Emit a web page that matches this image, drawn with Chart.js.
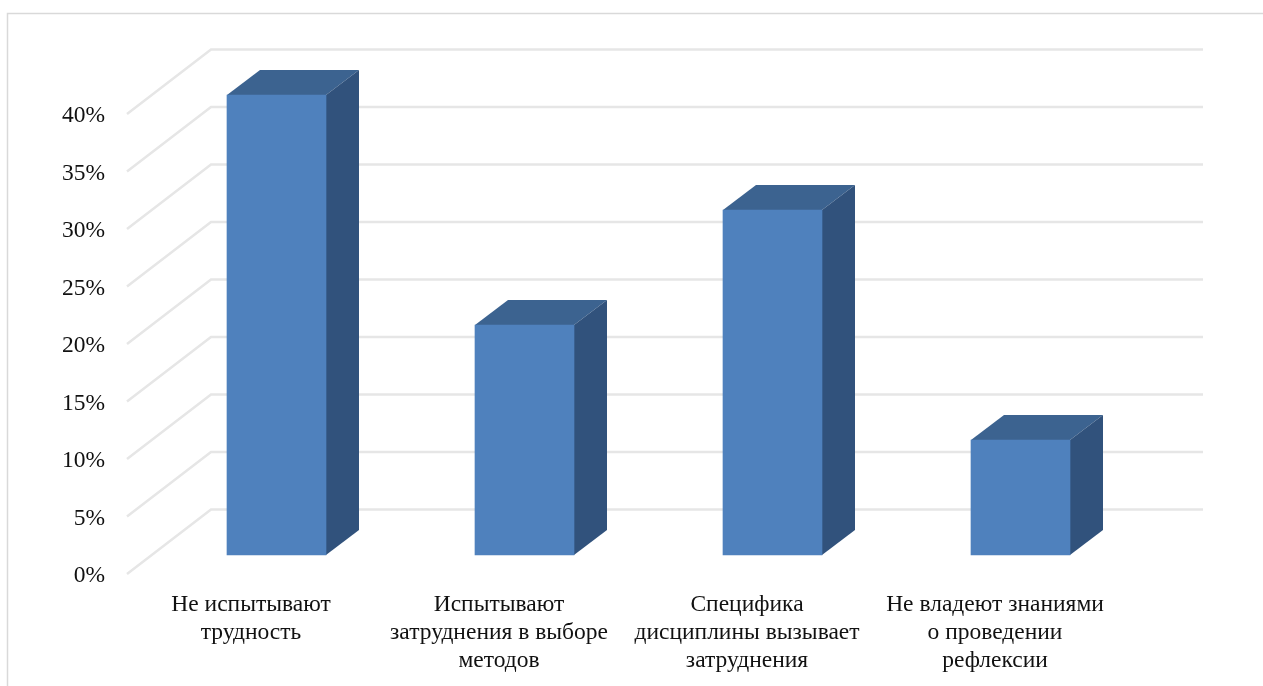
<!DOCTYPE html>
<html>
<head>
<meta charset="utf-8">
<script src="https://cdn.jsdelivr.net/npm/chart.js@4"></script>
<style>
    html, body { margin: 0; padding: 0; background: #fff; overflow: hidden; }
    canvas { display: block; }
</style>
</head>
<body>
<canvas id="barChart" width="1263" height="686"></canvas>
<script>
const categories = [
    ['Не испытывают', 'трудность'],
    ['Испытывают', 'затруднения в выборе', 'методов'],
    ['Специфика', 'дисциплины вызывает', 'затруднения'],
    ['Не владеют знаниями', 'о проведении', 'рефлексии']
];
const values = [40, 20, 30, 10];
const yTicks = [0, 5, 10, 15, 20, 25, 30, 35, 40];

// 3D look: offsets of the back wall and of the bars from the front edge of the floor
const wallDx = 84, wallDy = 64.5;
const barShiftX = 25.5, barShiftY = 19;
const barDepthX = 33, barDepthY = 25;

function fillPoly(ctx, color, pts) {
    ctx.fillStyle = color;
    ctx.beginPath();
    pts.forEach((p, i) => i ? ctx.lineTo(p[0], p[1]) : ctx.moveTo(p[0], p[1]));
    ctx.closePath();
    ctx.fill();
}

const fake3d = {
    id: 'fake3d',
    afterDatasetsUpdate(chart) {
        // bars stand in the middle of the floor, not on its front edge
        chart.getDatasetMeta(0).data.forEach(bar => {
            bar.x += barShiftX;
            bar.y -= barShiftY;
            bar.base -= barShiftY;
        });
    },
    beforeDatasetsDraw(chart) {
        const ctx = chart.ctx, area = chart.chartArea, y = chart.scales.y;
        ctx.save();

        // frame of the picture
        ctx.strokeStyle = '#d9d9d9';
        ctx.lineWidth = 1.5;
        ctx.beginPath();
        ctx.moveTo(7.5, chart.height);
        ctx.lineTo(7.5, 13.5);
        ctx.lineTo(chart.width, 13.5);
        ctx.stroke();

        // gridlines on the side wall and the back wall
        ctx.strokeStyle = '#e6e6e6';
        ctx.lineWidth = 2.5;
        y.ticks.forEach(t => {
            const py = y.getPixelForValue(t.value);
            ctx.beginPath();
            ctx.moveTo(area.left, py);
            ctx.lineTo(area.left + wallDx, py - wallDy);
            ctx.lineTo(area.right + wallDx, py - wallDy);
            ctx.stroke();
        });

        // top and side faces of each bar
        chart.getDatasetMeta(0).data.forEach(bar => {
            const l = bar.x - bar.width / 2, r = bar.x + bar.width / 2;
            fillPoly(ctx, '#3c6390', [[l, bar.y], [l + barDepthX, bar.y - barDepthY],
                [r + barDepthX, bar.y - barDepthY], [r, bar.y]]);
            fillPoly(ctx, '#31527c', [[r, bar.y], [r + barDepthX, bar.y - barDepthY],
                [r + barDepthX, bar.base - barDepthY], [r, bar.base]]);
        });
        ctx.restore();
    }
};

new Chart(document.getElementById('barChart').getContext('2d'), {
    type: 'bar',
    data: {
        labels: categories,
        datasets: [{
            data: values,
            backgroundColor: '#4f81bd',
            barThickness: 99,
            clip: false
        }]
    },
    options: {
        responsive: false,
        animation: false,
        layout: { padding: { top: 114, right: 144 } },
        plugins: { legend: { display: false }, tooltip: { enabled: false } },
        scales: {
            x: {
                grid: { display: false },
                border: { display: false },
                afterFit: scale => { scale.height = 112; },
                ticks: {
                    autoSkip: false,
                    maxRotation: 0,
                    padding: 9,
                    color: '#111',
                    font: { family: '"Liberation Serif"', size: 23.5, lineHeight: 1.19 }
                }
            },
            y: {
                min: 0,
                max: 40,
                grid: { display: false },
                border: { display: false },
                afterBuildTicks: scale => { scale.ticks = yTicks.map(v => ({ value: v })); },
                afterFit: scale => { scale.width = 127; },
                ticks: {
                    padding: 14,
                    labelOffset: 2,
                    color: '#111',
                    font: { family: '"Liberation Serif"', size: 23.5 },
                    callback: value => value + '%'
                }
            }
        }
    },
    plugins: [fake3d]
});
</script>
</body>
</html>
